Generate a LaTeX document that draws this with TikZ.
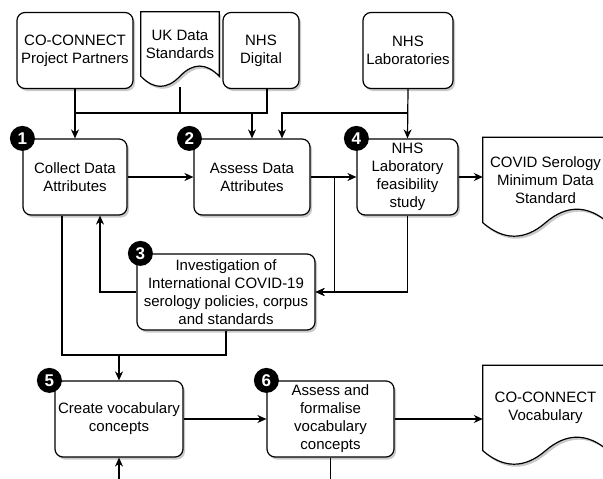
\documentclass[tikz,border=0pt]{standalone}
\usepackage{fontspec}
\setmainfont{Liberation Sans}
\usetikzlibrary{arrows.meta, calc, shadows, backgrounds}

\newcommand{\docoutline}[3]{%
  \draw[ln, fill=white, shade box] (#1.north west) -- (#1.north east) -- (#1.south east)
    .. controls +(-#2,-#3) and ($(#1.south)+(#2,-#3)$) .. (#1.south)
    .. controls +(-#2,#3) and ($(#1.south west)+(#2,#3)$) .. (#1.south west) -- cycle;}

\begin{document}
\begin{tikzpicture}[x=1pt, y=-1pt, font=\fontsize{15}{18}\selectfont,
    shade box/.style={drop shadow={shadow xshift=2pt, shadow yshift=-2.5pt, opacity=0.3, fill=black!70}},
    ln/.style={line width=1.2pt},
    box/.style={draw, ln, rounded corners=8pt, fill=white, align=center, inner sep=0pt, minimum height=76pt, shade box},
    doc/.style={align=center, inner sep=0pt},
    badge/.style={circle, fill=black, text=white, inner sep=0pt, minimum size=25pt, font=\bfseries\fontsize{17}{17}\selectfont},
    arr/.style={ln, -{Stealth[length=9pt, width=8pt]}}]
  \useasboundingbox (0,0) rectangle (603,479);

  % sources
  \node[box, minimum width=116pt] (partners) at (75,50.5) {CO-CONNECT\\Project Partners};
  \node[doc, minimum width=78pt, minimum height=64pt] (ukstd) at (180,44) {UK Data\\Standards};
  \node[box, minimum width=76pt] (digital) at (261,50.5) {NHS\\Digital};
  \node[box, minimum width=90pt] (labs) at (408,50.5) {NHS\\Laboratories};

  % steps
  \node[box, minimum width=104pt] (collect) at (75,177) {Collect Data\\Attributes};
  \node[box, minimum width=116pt] (assess) at (252,177) {Assess Data\\Attributes};
  \node[box, minimum width=101pt] (study) at (407.5,177) {NHS\\Laboratory\\feasibility\\study};
  \node[box, minimum width=178pt] (invest) at (226,292) {Investigation of\\International COVID-19\\serology policies, corpus\\and standards};
  \node[box, minimum width=128pt] (create) at (119,419) {Create vocabulary\\concepts};
  \node[box, minimum width=127pt] (formal) at (330.5,419) {Assess and\\formalise\\vocabulary\\concepts};

  % outputs
  \node[doc, minimum width=125pt, minimum height=85pt] (covid) at (545.5,180) {COVID Serology\\Minimum Data\\Standard};
  \node[doc, minimum width=125pt, minimum height=85pt] (vocab) at (545.5,408) {CO-CONNECT\\Vocabulary};

  \begin{scope}[on background layer]
    \docoutline{ukstd}{13}{13.5}
    \docoutline{covid}{20.8}{18}
    \docoutline{vocab}{20.8}{18}
  \end{scope}

  % step numbers
  \node[badge] (n1) at (collect.north west) {1};
  \node[badge] (n2) at ([xshift=-4pt]assess.north west) {2};
  \node[badge] (n3) at ([xshift=4pt]invest.north west) {3};
  \node[badge] (n4) at (study.north west) {4};
  \node[badge] (n5) at ([xshift=-5pt]create.north west) {5};
  \node[badge] (n6) at (formal.north west) {6};

  \coordinate (bus) at (0,113);
  \coordinate (bus2) at (0,355);
  \coordinate (edge) at (0,479);
  \coordinate (split) at ($(assess.east)!0.53!(study.west)$);

  \draw[arr] (partners.south) -- (collect.north);
  \draw[ln] ($(ukstd.south)+(0,11)$) -- (ukstd.south |- bus);
  \draw[ln] ([xshift=6pt]digital.south) |- (partners.south |- bus);
  \draw[arr] (assess.north |- bus) -- (assess.north);
  \draw[arr] (labs.south) -- (study.north);
  \draw[arr] (labs.south |- bus) -| ([xshift=30pt]assess.north);

  \draw[arr] (collect) -- (assess);
  \draw[arr] (assess) -- (study);
  \draw[arr] (study) -- (study -| covid.west);
  \draw[arr] (split) |- (invest.east);
  \draw[arr] (study.south) |- (invest.east);
  \draw[arr] (invest.west) -| ([xshift=25pt]collect.south);

  \draw[ln] ([xshift=-13pt]collect.south) |- (invest.south |- bus2) -- (invest.south);
  \draw[arr] (create.north |- bus2) -- (create.north);
  \draw[arr] (create) -- (formal);
  \draw[arr] (formal) -- (formal -| vocab.west);
  \draw[arr] (create.south |- edge) -- (create.south);
  \draw[ln] (formal.south) -- (formal.south |- edge);
\end{tikzpicture}
\end{document}
